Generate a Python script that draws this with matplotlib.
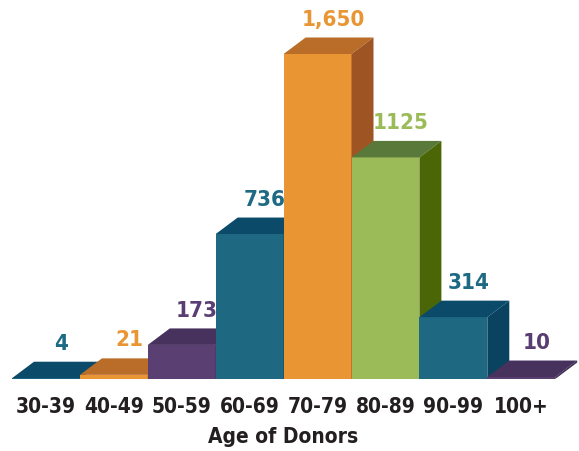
import matplotlib
matplotlib.use('Agg')
import matplotlib.pyplot as plt
from matplotlib.patches import Polygon

ages = ['30-39', '40-49', '50-59', '60-69', '70-79', '80-89', '90-99', '100+']
donors = [4, 21, 173, 736, 1650, 1125, 314, 10]
value_labels = ['4', '21', '173', '736', '1,650', '1125', '314', '10']
bar_colors = ['teal', 'orange', 'purple', 'teal', 'orange', 'green', 'teal', 'purple']

# front, top, side shades
shades = {
    'teal': ('#1e6882', '#0b4b69', '#0a4360'),
    'orange': ('#ea9534', '#b96d29', '#9e5523'),
    'purple': ('#5a3f72', '#47325e', '#3a2850'),
    'green': ('#9bbb59', '#58793a', '#4b6607'),
}
label_colors = {'teal': '#1e6a85', 'orange': '#e99533',
                'purple': '#5a3e73', 'green': '#9bbb59'}

plt.rcParams['font.family'] = ['DejaVu Sans']
plt.rcParams['font.stretch'] = 'condensed'

W, H = 579, 451
fig = plt.figure(figsize=(W / 100, H / 100), dpi=100)
px_per_unit = 325 / 1650
ax = fig.add_axes([12 / W, 72 / H, (W - 12) / W, (H - 72) / H])
ax.set_xlim(0, (W - 12) / 67.9)
ax.set_ylim(0, (H - 72) / px_per_unit)

dx = 22 / 67.9
dy = 16.5 / px_per_unit

for i, (v, c) in enumerate(zip(donors, bar_colors)):
    front, top, side = shades[c]
    x0, x1 = i, i + 1
    ax.add_patch(Polygon([(x0, 0), (x1, 0), (x1, v), (x0, v)], closed=True,
                         facecolor=front, edgecolor='none', clip_on=False))
    ax.add_patch(Polygon([(x0, v), (x1, v), (x1 + dx, v + dy), (x0 + dx, v + dy)],
                         closed=True, facecolor=top, edgecolor='none', clip_on=False))
    ax.add_patch(Polygon([(x1, 0), (x1 + dx, dy), (x1 + dx, v + dy), (x1, v)],
                         closed=True, facecolor=side, edgecolor='none', clip_on=False))
    ax.text(i + 0.5 + dx * 0.7, v + dy + 40, value_labels[i], ha='center', va='bottom',
            fontsize=16, fontweight='bold', color=label_colors[c])

ax.set_xticks([i + 0.5 for i in range(len(ages))])
ax.set_xticklabels(ages, fontsize=15, fontweight='bold', color='#231f20')
ax.tick_params(axis='x', length=0, pad=13)
ax.set_yticks([])
for s in ax.spines.values():
    s.set_visible(False)
ax.set_xlabel('Age of Donors', fontsize=15, fontweight='bold', color='#231f20')
ax.xaxis.set_label_coords(271 / (W - 12), -48 / (H - 72))

fig.savefig('out.png', dpi=100)
